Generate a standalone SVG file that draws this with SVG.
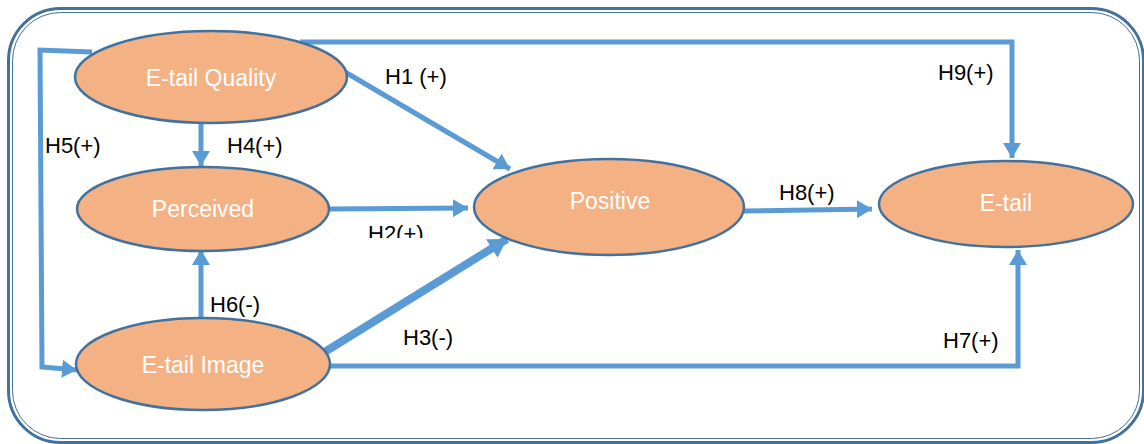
<svg xmlns="http://www.w3.org/2000/svg" width="1144" height="444" viewBox="0 0 1144 444">
<style>
.node{fill:#F4B183;stroke:#41719C;stroke-width:2.5}
.ntext{font-family:"Liberation Sans",Arial,sans-serif;font-size:23px;fill:#FFFFFF;text-anchor:middle}
.lbl{font-family:"Liberation Sans",Arial,sans-serif;font-size:22px;fill:#000000}
.conn{fill:none;stroke:#5B9BD5;stroke-width:5;stroke-linejoin:miter}
.thick{stroke-width:8}
</style>
<defs>
<marker id="arr" markerUnits="userSpaceOnUse" markerWidth="18" markerHeight="18" refX="15" refY="9" orient="auto">
<path d="M0,0 L15,9 L0,18 Z" fill="#5B9BD5"/>
</marker>
<marker id="arrL" markerUnits="userSpaceOnUse" markerWidth="22" markerHeight="22" refX="18" refY="11" orient="auto">
<path d="M0,0 L18,11 L0,22 Z" fill="#5B9BD5"/>
</marker>
<clipPath id="h2clip"><rect x="350" y="200" width="100" height="38"/></clipPath>
</defs>
<g id="frame">
<rect x="8.5" y="8.5" width="1135" height="434" rx="52" ry="52" fill="none" stroke="#41719C" stroke-width="3"/>
<rect x="12.5" y="12.5" width="1127" height="426" rx="48" ry="48" fill="none" stroke="#41719C" stroke-width="1"/>
</g>
<g id="connectors">
<path class="conn" d="M300,42 L1012,42 L1012,158" marker-end="url(#arr)"/>
<path class="conn" d="M92,52 L40,50 L42,367 L77,370" marker-end="url(#arr)"/>
<path class="conn" d="M201,112 L201,166" marker-end="url(#arr)"/>
<path class="conn" d="M345,72 L510,169" marker-end="url(#arr)"/>
<path class="conn" d="M330,209 L468,208" marker-end="url(#arr)"/>
<path class="conn thick" d="M323,353 L507,239" marker-end="url(#arrL)"/>
<path class="conn" d="M201,319 L201,250" marker-end="url(#arr)"/>
<path class="conn" d="M744,211 L872,209" marker-end="url(#arr)"/>
<path class="conn" d="M330,366 L1018,366 L1018,250" marker-end="url(#arr)"/>
</g>
<g id="n-quality">
<ellipse class="node" cx="211" cy="77" rx="136" ry="46"/>
<text class="ntext" x="211" y="86">E-tail Quality</text>
</g>
<g id="n-perceived">
<ellipse class="node" cx="203" cy="209" rx="126" ry="42"/>
<text class="ntext" x="203" y="217">Perceived</text>
</g>
<g id="n-image">
<ellipse class="node" cx="203" cy="364" rx="127" ry="46"/>
<text class="ntext" x="203" y="373">E-tail Image</text>
</g>
<g id="n-positive">
<ellipse class="node" cx="609" cy="207" rx="135" ry="48"/>
<text class="ntext" x="610" y="209">Positive</text>
</g>
<g id="n-etail">
<ellipse class="node" cx="1006" cy="204" rx="127" ry="43"/>
<text class="ntext" x="1006" y="211">E-tail</text>
</g>
<g id="labels">
<text class="lbl" x="385" y="84">H1 (+)</text>
<text class="lbl" x="938" y="80">H9(+)</text>
<text class="lbl" x="45" y="153">H5(+)</text>
<text class="lbl" x="227" y="153">H4(+)</text>
<text class="lbl" x="368" y="241" clip-path="url(#h2clip)">H2(+)</text>
<text class="lbl" x="779" y="200">H8(+)</text>
<text class="lbl" x="210" y="312">H6(-)</text>
<text class="lbl" x="403" y="345">H3(-)</text>
<text class="lbl" x="943" y="348">H7(+)</text>
</g>
</svg>
